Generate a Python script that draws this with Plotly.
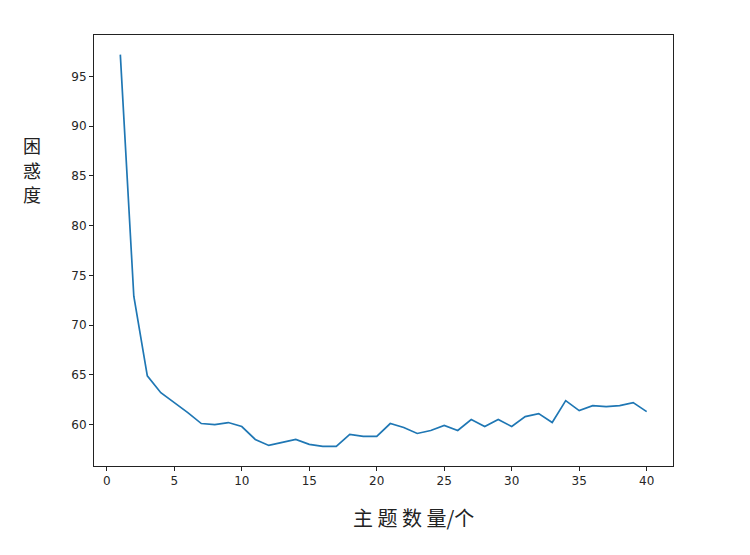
import plotly.graph_objects as go

topics = list(range(1, 41))
perplexity = [97.2, 72.9, 64.9, 63.2, 62.2, 61.2, 60.1, 60.0, 60.2, 59.8,
              58.5, 57.9, 58.2, 58.5, 58.0, 57.8, 57.8, 59.0, 58.8, 58.8,
              60.1, 59.7, 59.1, 59.4, 59.9, 59.4, 60.5, 59.8, 60.5, 59.8,
              60.8, 61.1, 60.2, 62.4, 61.4, 61.9, 61.8, 61.9, 62.2, 61.3]
x_ticks = [0, 5, 10, 15, 20, 25, 30, 35, 40]
y_ticks = [60, 65, 70, 75, 80, 85, 90, 95]
x_title = "主 题 数 量/个"
y_title_chars = ["困", "惑", "度"]

OFF = 8  # page body margin
W, H = 750 - OFF, 555 - OFF
L, R, T, B = 94 - OFF, 673 - OFF, 35 - OFF, 466 - OFF
pw, ph = R - L, B - T

fig = go.Figure()
fig.add_trace(go.Scatter(x=topics, y=perplexity, mode="lines",
                         line=dict(color="#1f77b4", width=1.7)))

axis_common = dict(showgrid=False, zeroline=False, showline=True, mirror=True,
                   linecolor="#222222", linewidth=1, ticks="outside", ticklen=4,
                   tickwidth=1, tickcolor="#222222",
                   tickfont=dict(family="DejaVu Sans", size=12, color="#262626"))
xmin, xmax = 1 - 0.05 * 39, 40 + 0.05 * 39
ymin_d, ymax_d = min(perplexity), max(perplexity)
pad = 0.05 * (ymax_d - ymin_d)
fig.update_xaxes(range=[xmin, xmax], tickvals=x_ticks, **axis_common)
fig.update_yaxes(range=[ymin_d - pad, ymax_d + pad], tickvals=y_ticks, **axis_common)

cjk = "Noto Sans CJK SC"
fig.add_annotation(text=x_title, xref="paper", yref="paper",
                   x=(413 - OFF - L) / pw, y=(B - (517 - OFF)) / ph, showarrow=False,
                   xanchor="center", yanchor="middle",
                   font=dict(family=cjk, size=20, color="#222222"))
for ch, py in zip(y_title_chars, [145, 170, 194]):
    fig.add_annotation(text=ch, xref="paper", yref="paper",
                       x=(32 - OFF - L) / pw, y=(B - (py - OFF)) / ph, showarrow=False,
                       xanchor="center", yanchor="middle",
                       font=dict(family=cjk, size=18, color="#222222"))

fig.update_layout(width=W, height=H, showlegend=False,
                  margin=dict(l=L, r=W - R, t=T, b=H - B),
                  paper_bgcolor="white", plot_bgcolor="white")

fig.write_html("out.html")
